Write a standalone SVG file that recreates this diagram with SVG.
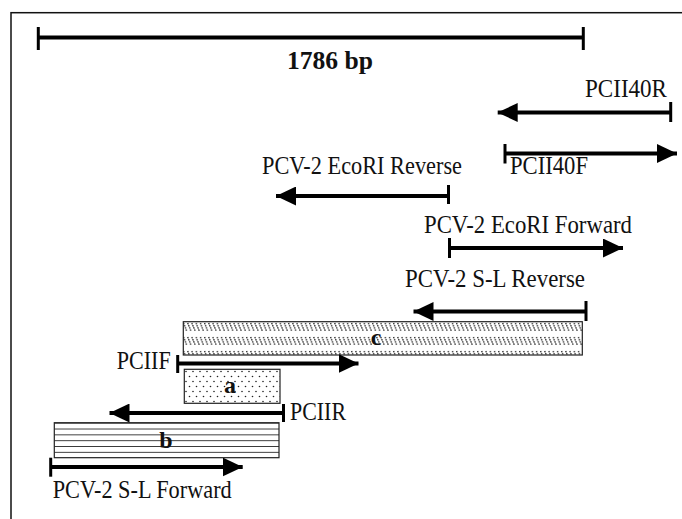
<svg xmlns="http://www.w3.org/2000/svg" width="682" height="519" viewBox="0 0 682 519">
  <style>
    .lbl { font-family: "Liberation Serif", "Times New Roman", serif; font-size: 25px; fill: #111; }
    .bold { font-family: "Liberation Serif", "Times New Roman", serif; font-weight: bold; fill: #111; }
    .shaft { stroke: #000; stroke-width: 4; fill: none; }
    .tick { stroke: #000; stroke-width: 3; fill: none; }
    .box { stroke: #222; stroke-width: 1.2; }
  </style>
  <defs>
    <marker id="head" viewBox="0 0 20 19" markerUnits="userSpaceOnUse" markerWidth="20" markerHeight="19" refX="20" refY="9.5" orient="auto">
      <path d="M0,0 L20,9.5 L0,19 Z" fill="#000"/>
    </marker>
    <pattern id="hatch" patternUnits="userSpaceOnUse" x="183" y="322" width="4.2" height="14">
      <line x1="0.5" y1="1" x2="3.7" y2="9" stroke="#000" stroke-width="1.1" stroke-dasharray="1.5 0.8"/>
    </pattern>
    <pattern id="dots" patternUnits="userSpaceOnUse" x="184" y="369" width="7" height="10">
      <circle cx="2" cy="2.5" r="0.8" fill="#222"/>
      <circle cx="5.5" cy="7.5" r="0.8" fill="#222"/>
    </pattern>
    <pattern id="stripes" patternUnits="userSpaceOnUse" x="54" y="422.7" width="10" height="5.83">
      <line x1="0" y1="0" x2="10" y2="0" stroke="#000" stroke-width="1.5"/>
    </pattern>
  </defs>

  <rect x="0" y="0" width="682" height="519" fill="#fff"/>
  <rect id="frame" x="11" y="12.7" width="700" height="540" fill="none" stroke="#111" stroke-width="1.5"/>

  <g id="scale">
    <line class="shaft" x1="38.3" y1="37.5" x2="583.3" y2="37.5" stroke-width="4.5"/>
    <line class="tick" x1="38.3" y1="27" x2="38.3" y2="50"/>
    <line class="tick" x1="583.3" y1="27" x2="583.3" y2="50"/>
    <text class="bold" x="287" y="68.5" font-size="26" textLength="86" lengthAdjust="spacingAndGlyphs">1786 bp</text>
  </g>

  <g id="box-c">
    <rect class="box" x="183.3" y="321.7" width="399" height="33.3" fill="url(#hatch)"/>
    <text class="bold" x="376" y="345" font-size="24" text-anchor="middle">c</text>
  </g>
  <g id="box-a">
    <rect class="box" x="184.3" y="369.3" width="95.7" height="34" fill="url(#dots)"/>
    <text class="bold" x="230" y="393" font-size="24" text-anchor="middle">a</text>
  </g>
  <g id="box-b">
    <rect x="54.3" y="422.7" width="224.7" height="35" fill="url(#stripes)"/>
    <rect class="box" x="54.3" y="422.7" width="224.7" height="35" fill="none"/>
    <text class="bold" x="166" y="448" font-size="24" text-anchor="middle">b</text>
  </g>

  <g id="primers">
    <g id="PCII40R">
      <line class="shaft" x1="670.7" y1="112.5" x2="497.7" y2="112.5" marker-end="url(#head)"/>
      <line class="tick" x1="670.7" y1="102" x2="670.7" y2="122"/>
      <text class="lbl" x="585" y="97" textLength="82" lengthAdjust="spacingAndGlyphs">PCII40R</text>
    </g>
    <g id="PCII40F">
      <line class="shaft" x1="505" y1="153.5" x2="677" y2="153.5" marker-end="url(#head)"/>
      <line class="tick" x1="505" y1="144" x2="505" y2="163.5"/>
      <text class="lbl" x="510" y="174" textLength="78" lengthAdjust="spacingAndGlyphs">PCII40F</text>
    </g>
    <g id="EcoRI-Reverse">
      <line class="shaft" x1="448.5" y1="196" x2="276" y2="196" marker-end="url(#head)"/>
      <line class="tick" x1="448.5" y1="185" x2="448.5" y2="204"/>
      <text class="lbl" x="262" y="173.5" textLength="200" lengthAdjust="spacingAndGlyphs">PCV-2 EcoRI Reverse</text>
    </g>
    <g id="EcoRI-Forward">
      <line class="shaft" x1="449.5" y1="248" x2="623" y2="248" marker-end="url(#head)"/>
      <line class="tick" x1="449.5" y1="238" x2="449.5" y2="258"/>
      <text class="lbl" x="424" y="233" textLength="208" lengthAdjust="spacingAndGlyphs">PCV-2 EcoRI Forward</text>
    </g>
    <g id="SL-Reverse">
      <line class="shaft" x1="586" y1="311.5" x2="413.5" y2="311.5" marker-end="url(#head)"/>
      <line class="tick" x1="586" y1="301" x2="586" y2="321"/>
      <text class="lbl" x="405" y="287" textLength="180" lengthAdjust="spacingAndGlyphs">PCV-2 S-L Reverse</text>
    </g>
    <g id="PCIIF">
      <line class="shaft" x1="177.7" y1="363.5" x2="358.5" y2="363.5" marker-end="url(#head)"/>
      <line class="tick" x1="177.7" y1="355" x2="177.7" y2="373"/>
      <text class="lbl" x="116.7" y="369" textLength="54" lengthAdjust="spacingAndGlyphs">PCIIF</text>
    </g>
    <g id="PCIIR">
      <line class="shaft" x1="283.5" y1="413" x2="109.5" y2="413" marker-end="url(#head)"/>
      <line class="tick" x1="283.5" y1="404" x2="283.5" y2="422"/>
      <text class="lbl" x="290" y="420" textLength="56" lengthAdjust="spacingAndGlyphs">PCIIR</text>
    </g>
    <g id="SL-Forward">
      <line class="shaft" x1="50.7" y1="467" x2="242.7" y2="467" marker-end="url(#head)"/>
      <line class="tick" x1="50.7" y1="457.7" x2="50.7" y2="476.7"/>
      <text class="lbl" x="52.7" y="498" textLength="179" lengthAdjust="spacingAndGlyphs">PCV-2 S-L Forward</text>
    </g>
  </g>
</svg>
